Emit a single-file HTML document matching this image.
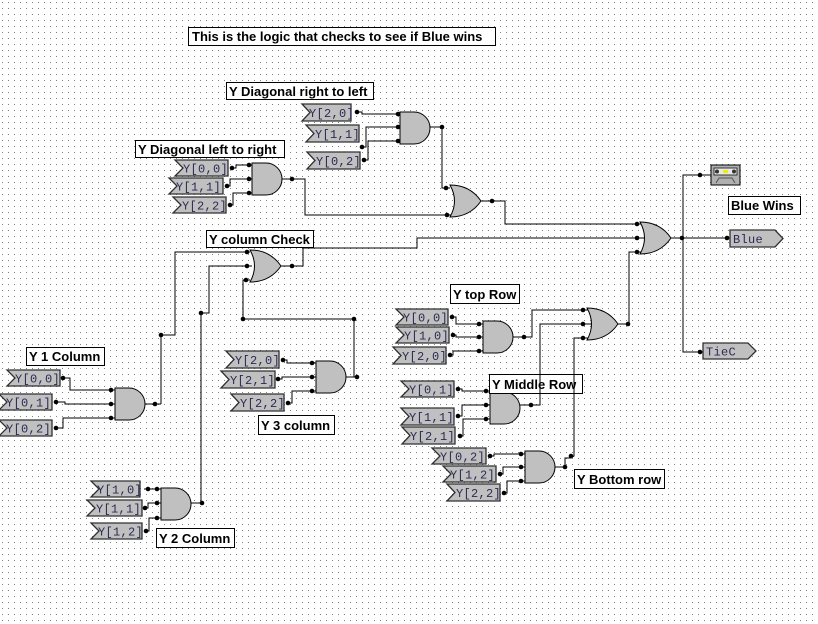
<!DOCTYPE html>
<html><head><meta charset="utf-8">
<style>
html,body{margin:0;padding:0;background:#fff;}
svg{display:block;}
.w{stroke:#000;stroke-width:1;fill:none;}
.g{fill:#c0c0c0;stroke:#000;stroke-width:1;}
.tg polygon{fill:#c0c0c0;stroke:#303030;stroke-width:1.3;}
.t{font-family:"Liberation Mono",monospace;font-size:12px;letter-spacing:0.3px;fill:#2a2a55;}
.lb{fill:#fff;stroke:#000;stroke-width:1;}
.lt{font-family:"Liberation Sans",sans-serif;font-size:13px;font-weight:bold;fill:#000;}
</style></head>
<body>
<svg width="818" height="624" viewBox="0 0 818 624" xmlns="http://www.w3.org/2000/svg">
<defs>
<pattern id="dots" x="0" y="0" width="6" height="6" patternUnits="userSpaceOnUse">
<rect x="2" y="2" width="1" height="1" fill="#808080"/>
</pattern>
<path id="and" d="M0,0 H14 A16,16 0 0 1 14,32 H0 Z" class="g"/>
<path id="or" d="M0,0 Q20,0 31,16 Q20,32 0,32 Q9,16 0,0 Z" class="g"/>
</defs>
<rect x="0" y="0" width="814" height="624" fill="url(#dots)"/>

<g>
<rect class="lb" x="188.5" y="27.5" width="307" height="18"/><text class="lt" x="192" y="41">This is the logic that checks to see if Blue wins</text>
<rect class="lb" x="226.5" y="82.5" width="147" height="17"/><text class="lt" x="229" y="96">Y Diagonal right to left</text>
<rect class="lb" x="135.5" y="140.5" width="149" height="17"/><text class="lt" x="138" y="154">Y Diagonal left to right</text>
<rect class="lb" x="206.5" y="230.5" width="107" height="17"/><text class="lt" x="209" y="244">Y column Check</text>
<rect class="lb" x="26.5" y="347.5" width="78" height="18"/><text class="lt" x="29" y="361">Y 1 Column</text>
<rect class="lb" x="258.5" y="415.5" width="76" height="19"/><text class="lt" x="261" y="430">Y 3 column</text>
<rect class="lb" x="156.5" y="528.5" width="78" height="19"/><text class="lt" x="159" y="543">Y 2 Column</text>
<rect class="lb" x="450.5" y="284.5" width="69" height="19"/><text class="lt" x="453" y="299">Y top Row</text>
<rect class="lb" x="574.5" y="469.5" width="90" height="19"/><text class="lt" x="577" y="484">Y Bottom row</text>
<rect class="lb" x="728.5" y="196.5" width="72" height="18"/><text class="lt" x="731" y="210">Blue Wins</text>
</g>

<g class="w">
<polyline points="357,112 362,112 362,114 400,114"/>
<polyline points="362,147 366,147 366,127 400,127"/>
<polyline points="364,160 368,160 368,141 400,141"/>
<polyline points="430,127 442,127 442,188 450,188"/>
<polyline points="232,168 236,168 236,165 252,165"/>
<polyline points="227,186 230,186 230,179 252,179"/>
<polyline points="230,205 233,205 233,193 252,193"/>
<polyline points="281,179 305,179 305,215 452,215"/>
<polyline points="480,201 505,201 505,224 641,224"/>
<polyline points="280,266 303,266 303,248 417,248 417,238 644,238"/>
<polyline points="250,252 175,252 175,335 161,335 161,404"/>
<polyline points="252,266 209,266 209,313 201,313 201,503"/>
<polyline points="250,280 243,280 243,319 354,319 354,377"/>
<polyline points="63,378 70,378 70,390 115,390"/>
<polyline points="56,402 65,402 65,404 115,404"/>
<polyline points="56,428 63,428 63,418 115,418"/>
<polyline points="144,404 161,404"/>
<polyline points="283,360 287,360 287,363 316,363"/>
<polyline points="278,379 282,379 282,377 316,377"/>
<polyline points="288,403 292,403 292,391 316,391"/>
<polyline points="345,377 357,377"/>
<polyline points="144,489 161,489"/>
<polyline points="145,508 148,508 148,503 161,503"/>
<polyline points="146,531 149,531 149,518 161,518"/>
<polyline points="190,503 202,503"/>
<polyline points="641,252 629,252 629,324 617,324"/>
<polyline points="670,238 730,238"/>
<polyline points="683,238 683,175 700,175 711,175"/>
<polyline points="683,238 683,352 703,352"/>
<polyline points="452,317 456,317 456,324 483,324"/>
<polyline points="453,335 456,335 456,337 483,337"/>
<polyline points="450,355 453,355 453,351 483,351"/>
<polyline points="512,337 532,337 532,310 590,310"/>
<polyline points="458,389 462,389 462,391 490,391"/>
<polyline points="458,416 462,416 462,405 490,405"/>
<polyline points="460,436 463,436 463,419 490,419"/>
<polyline points="519,405 540,405 540,324 591,324"/>
<polyline points="490,456 494,456 494,454 525,454"/>
<polyline points="500,474 503,474 503,467 525,467"/>
<polyline points="504,493 507,493 507,481 525,481"/>
<polyline points="554,467 565,467 565,458 571,458 574,456 574,338 590,338"/>
</g>

<use href="#and" x="400" y="112"/>
<use href="#and" x="252" y="163"/>
<use href="#or" x="450" y="185"/>
<use href="#or" x="640" y="222"/>
<use href="#or" x="250" y="250"/>
<use href="#and" x="115" y="388"/>
<use href="#and" x="316" y="361"/>
<use href="#and" x="161" y="488"/>
<use href="#and" x="483" y="321"/>
<use href="#or" x="587" y="308"/>
<use href="#and" x="490" y="392"/>
<use href="#and" x="525" y="451"/>
<rect class="lb" x="489.5" y="374.5" width="93" height="19"/><text class="lt" x="492" y="389">Y Middle Row</text>
<g class="w"><line x1="540" y1="370" x2="540" y2="400"/><line x1="574" y1="370" x2="574" y2="400"/></g>

<g class="tg">
<g transform="translate(302,104)"><polygon points="0,0 49,0 49,17 0,17 8,8.5"/><text class="t" x="7" y="13">Y[2,0]</text></g>
<g transform="translate(306,125)"><polygon points="0,0 53,0 53,17 0,17 8,8.5"/><text class="t" x="9" y="13">Y[1,1]</text></g>
<g transform="translate(307,152)"><polygon points="0,0 53,0 53,17 0,17 8,8.5"/><text class="t" x="9" y="13">Y[0,2]</text></g>
<g transform="translate(175,160)"><polygon points="0,0 53,0 53,16 0,16 8,8"/><text class="t" x="8" y="12.5">Y[0,0]</text></g>
<g transform="translate(169,178)"><polygon points="0,0 54,0 54,16 0,16 8,8"/><text class="t" x="7" y="12.5">Y[1,1]</text></g>
<g transform="translate(173,197)"><polygon points="0,0 53,0 53,16 0,16 8,8"/><text class="t" x="9" y="12.5">Y[2,2]</text></g>
<g transform="translate(7,370)"><polygon points="0,0 53,0 53,16 0,16 8,8"/><text class="t" x="8" y="12.5">Y[0,0]</text></g>
<g transform="translate(-1,394)"><polygon points="0,0 53,0 53,16 0,16 8,8"/><text class="t" x="7" y="12.5">Y[0,1]</text></g>
<g transform="translate(-1,420)"><polygon points="0,0 53,0 53,16 0,16 8,8"/><text class="t" x="7" y="12.5">Y[0,2]</text></g>
<g transform="translate(226,351)"><polygon points="0,0 53,0 53,17 0,17 8,8.5"/><text class="t" x="9" y="13">Y[2,0]</text></g>
<g transform="translate(221,371)"><polygon points="0,0 54,0 54,17 0,17 8,8.5"/><text class="t" x="9" y="13">Y[2,1]</text></g>
<g transform="translate(231,394)"><polygon points="0,0 53,0 53,17 0,17 8,8.5"/><text class="t" x="9" y="13">Y[2,2]</text></g>
<g transform="translate(91,481)"><polygon points="0,0 49,0 49,16 0,16 8,8"/><text class="t" x="6" y="12.5">Y[1,0]</text></g>
<g transform="translate(87,500)"><polygon points="0,0 55,0 55,16 0,16 8,8"/><text class="t" x="9" y="12.5">Y[1,1]</text></g>
<g transform="translate(91,523)"><polygon points="0,0 51,0 51,16 0,16 8,8"/><text class="t" x="7" y="12.5">Y[1,2]</text></g>
<g transform="translate(396,309)"><polygon points="0,0 52,0 52,16 0,16 8,8"/><text class="t" x="7" y="12.5">Y[0,0]</text></g>
<g transform="translate(396,327)"><polygon points="0,0 53,0 53,16 0,16 8,8"/><text class="t" x="8" y="12.5">Y[1,0]</text></g>
<g transform="translate(393,347)"><polygon points="0,0 53,0 53,17 0,17 8,8.5"/><text class="t" x="9" y="13">Y[2,0]</text></g>
<g transform="translate(401,381)"><polygon points="0,0 53,0 53,16 0,16 8,8"/><text class="t" x="8" y="12.5">Y[0,1]</text></g>
<g transform="translate(401,408)"><polygon points="0,0 53,0 53,17 0,17 8,8.5"/><text class="t" x="8" y="13">Y[1,1]</text></g>
<g transform="translate(402,427)"><polygon points="0,0 53,0 53,17 0,17 8,8.5"/><text class="t" x="8" y="13">Y[2,1]</text></g>
<g transform="translate(432,448)"><polygon points="0,0 54,0 54,16 0,16 8,8"/><text class="t" x="8" y="12.5">Y[0,2]</text></g>
<g transform="translate(443,466)"><polygon points="0,0 53,0 53,16 0,16 8,8"/><text class="t" x="7" y="12.5">Y[1,2]</text></g>
<g transform="translate(447,484)"><polygon points="0,0 53,0 53,17 0,17 8,8.5"/><text class="t" x="9" y="13">Y[2,2]</text></g>
<g transform="translate(730,230)"><polygon points="0,0 45,0 53,8.5 45,17 0,17"/><text class="t" x="3" y="13">Blue</text></g>
<g transform="translate(703,343)"><polygon points="0,0 45,0 53,8 45,16 0,16"/><text class="t" x="3" y="12.5">TieC</text></g>
</g>
<g transform="translate(711,165)">
<rect x="0" y="0" width="29" height="20" fill="#b0b0b0" stroke="#000"/>
<rect x="3" y="3" width="23" height="7" fill="#e8e8e8" stroke="#333"/>
<rect x="12" y="5" width="5" height="3" fill="#ee0"/>
<circle cx="6" cy="6.5" r="2" fill="#333"/><circle cx="23" cy="6.5" r="2" fill="#333"/>
<path d="M5,18 L8,13 H21 L24,18" fill="none" stroke="#555"/>
</g>

<g fill="#000">
<circle cx="357" cy="112" r="2.3"/><circle cx="362" cy="147" r="2.3"/><circle cx="364" cy="160" r="2.3"/>
<circle cx="398" cy="114" r="2.3"/><circle cx="398" cy="127" r="2.3"/><circle cx="398" cy="141" r="2.3"/>
<circle cx="442" cy="127" r="2.3"/><circle cx="446" cy="188" r="2.3"/><circle cx="447" cy="215" r="2.3"/>
<circle cx="232" cy="168" r="2.3"/><circle cx="227" cy="186" r="2.3"/><circle cx="230" cy="205" r="2.3"/>
<circle cx="249" cy="165" r="2.3"/><circle cx="249" cy="179" r="2.3"/><circle cx="249" cy="193" r="2.3"/>
<circle cx="292" cy="179" r="2.3"/><circle cx="492" cy="201" r="2.3"/>
<circle cx="637" cy="224" r="2.3"/><circle cx="637" cy="238" r="2.3"/><circle cx="637" cy="252" r="2.3"/>
<circle cx="682" cy="238" r="2.3"/><circle cx="700" cy="175" r="2.3"/><circle cx="727" cy="238" r="2.3"/><circle cx="700" cy="352" r="2.3"/>
<circle cx="247" cy="252" r="2.3"/><circle cx="247" cy="266" r="2.3"/><circle cx="246" cy="280" r="2.3"/>
<circle cx="292" cy="266" r="2.3"/><circle cx="161" cy="335" r="2.3"/><circle cx="201" cy="313" r="2.3"/>
<circle cx="243" cy="319" r="2.3"/><circle cx="354" cy="319" r="2.3"/>
<circle cx="63" cy="378" r="2.3"/><circle cx="56" cy="402" r="2.3"/><circle cx="56" cy="428" r="2.3"/>
<circle cx="111" cy="390" r="2.3"/><circle cx="111" cy="404" r="2.3"/><circle cx="111" cy="418" r="2.3"/><circle cx="155" cy="404" r="2.3"/>
<circle cx="283" cy="360" r="2.3"/><circle cx="278" cy="379" r="2.3"/><circle cx="288" cy="403" r="2.3"/>
<circle cx="312" cy="363" r="2.3"/><circle cx="312" cy="377" r="2.3"/><circle cx="312" cy="391" r="2.3"/><circle cx="357" cy="377" r="2.3"/>
<circle cx="148" cy="489" r="2.3"/><circle cx="145" cy="508" r="2.3"/><circle cx="146" cy="531" r="2.3"/>
<circle cx="157" cy="489" r="2.3"/><circle cx="157" cy="503" r="2.3"/><circle cx="157" cy="518" r="2.3"/><circle cx="202" cy="503" r="2.3"/>
<circle cx="452" cy="317" r="2.3"/><circle cx="453" cy="335" r="2.3"/><circle cx="450" cy="355" r="2.3"/>
<circle cx="479" cy="324" r="2.3"/><circle cx="479" cy="337" r="2.3"/><circle cx="479" cy="351" r="2.3"/><circle cx="524" cy="337" r="2.3"/>
<circle cx="583" cy="310" r="2.3"/><circle cx="583" cy="324" r="2.3"/><circle cx="583" cy="338" r="2.3"/><circle cx="628" cy="324" r="2.3"/>
<circle cx="458" cy="389" r="2.3"/><circle cx="458" cy="416" r="2.3"/><circle cx="460" cy="436" r="2.3"/>
<circle cx="486" cy="391" r="2.3"/><circle cx="486" cy="405" r="2.3"/><circle cx="486" cy="419" r="2.3"/><circle cx="531" cy="405" r="2.3"/>
<circle cx="490" cy="456" r="2.3"/><circle cx="500" cy="474" r="2.3"/><circle cx="504" cy="493" r="2.3"/>
<circle cx="521" cy="454" r="2.3"/><circle cx="521" cy="467" r="2.3"/><circle cx="521" cy="481" r="2.3"/>
<circle cx="565" cy="467" r="2.3"/><circle cx="571" cy="456" r="2.3"/>
</g>
</svg>
</body></html>
